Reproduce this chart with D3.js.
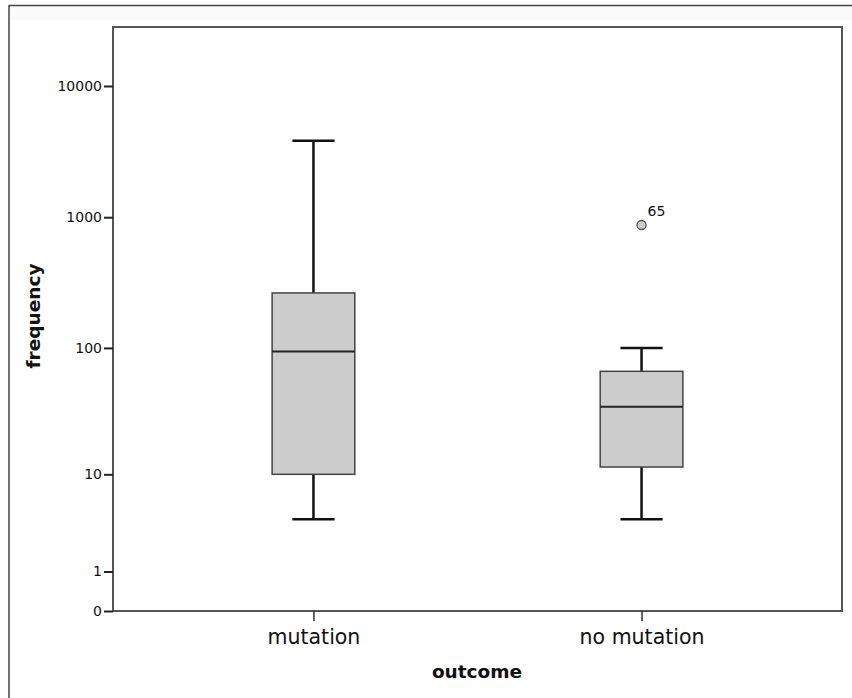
<!DOCTYPE html>
<html><head><meta charset="utf-8">
<script src="https://cdn.jsdelivr.net/npm/d3@7"></script>
<style>body{margin:0;background:#fff}svg{display:block}text{font-family:"DejaVu Sans",sans-serif}</style>
</head><body>
<script>
const categories = ["mutation", "no mutation"];
const whiskerLow = [4, 4];
const q1 = [10, 11.5];
const median = [94, 35];
const q3 = [264, 66];
const whiskerHigh = [3830, 100];
const outlierCats = ["no mutation"];
const outlierValues = [872];
const outlierLabels = ["65"];
const yTicks = [0, 1, 10, 100, 1000, 10000];

const W = 852, H = 698;
const L = 113, R = 842, T = 27, B = 611;
const svg = d3.select("body").append("svg").attr("width", W).attr("height", H);

// outer border (left and top)
svg.append("rect").attr("x", 9).attr("y", 6).attr("width", W - 9).attr("height", 14).attr("fill", "#fbfafa");
svg.append("line").attr("x1", 9).attr("x2", 9).attr("y1", 5.5).attr("y2", H).attr("stroke", "#444").attr("stroke-width", 1.5);
svg.append("line").attr("x1", 8.5).attr("x2", W).attr("y1", 5.5).attr("y2", 5.5).attr("stroke", "#444").attr("stroke-width", 1.5);

const y = d3.scaleSymlog().constant(1).domain([0, 28150]).range([B, T]);
const x = d3.scalePoint().domain(categories).range([L, R]).padding(0.611);
const step = x.step();
const bw = step * 0.252;
const cw = bw * 0.51;

// frame
svg.append("rect").attr("x", L).attr("y", T).attr("width", R - L).attr("height", B - T)
  .attr("fill", "none").attr("stroke", "#555").attr("stroke-width", 2);

// y axis
const yAxis = d3.axisLeft(y).tickValues(yTicks).tickFormat(d3.format("d")).tickSize(9).tickPadding(2);
const gy = svg.append("g").attr("transform", `translate(${L},0)`).call(yAxis);
gy.select(".domain").remove();
gy.selectAll(".tick line").attr("stroke", "#222").attr("stroke-width", 2);
gy.selectAll(".tick text").attr("font-size", 14).attr("fill", "#111").attr("font-family", "DejaVu Sans");

// x axis
const xAxis = d3.axisBottom(x).tickSize(10).tickPadding(8);
const gx = svg.append("g").attr("transform", `translate(0,${B})`).call(xAxis);
gx.select(".domain").remove();
gx.selectAll(".tick line").attr("stroke", "#333").attr("stroke-width", 1.5);
gx.selectAll(".tick text").attr("font-size", 20.5).attr("fill", "#111").attr("font-family", "DejaVu Sans");

// boxes
categories.forEach((c, i) => {
  const cx = x(c);
  const g = svg.append("g");
  g.append("line").attr("x1", cx).attr("x2", cx).attr("y1", y(whiskerHigh[i])).attr("y2", y(q3[i])).attr("stroke", "#111").attr("stroke-width", 2.5);
  g.append("line").attr("x1", cx).attr("x2", cx).attr("y1", y(q1[i])).attr("y2", y(whiskerLow[i])).attr("stroke", "#111").attr("stroke-width", 2.5);
  g.append("line").attr("x1", cx - cw / 2).attr("x2", cx + cw / 2).attr("y1", y(whiskerHigh[i])).attr("y2", y(whiskerHigh[i])).attr("stroke", "#111").attr("stroke-width", 2.5);
  g.append("line").attr("x1", cx - cw / 2).attr("x2", cx + cw / 2).attr("y1", y(whiskerLow[i])).attr("y2", y(whiskerLow[i])).attr("stroke", "#111").attr("stroke-width", 2.5);
  g.append("rect").attr("x", cx - bw / 2).attr("y", y(q3[i])).attr("width", bw).attr("height", y(q1[i]) - y(q3[i]))
    .attr("fill", "#cccccc").attr("stroke", "#444").attr("stroke-width", 1.5);
  g.append("line").attr("x1", cx - bw / 2).attr("x2", cx + bw / 2).attr("y1", y(median[i])).attr("y2", y(median[i])).attr("stroke", "#222").attr("stroke-width", 2);
});

// outliers
outlierValues.forEach((v, i) => {
  const cx = x(outlierCats[i]);
  svg.append("circle").attr("cx", cx).attr("cy", y(v)).attr("r", 4.5).attr("fill", "#cccccc").attr("stroke", "#555").attr("stroke-width", 1.3);
  svg.append("text").attr("x", cx + 6).attr("y", y(v) - 9).attr("font-size", 14).attr("fill", "#111").text(outlierLabels[i]);
});

// axis titles
svg.append("text").attr("transform", `translate(40,316) rotate(-90)`).attr("text-anchor", "middle")
  .attr("font-size", 18.5).attr("font-weight", "bold").attr("fill", "#111").text("frequency");
svg.append("text").attr("x", 477).attr("y", 678).attr("text-anchor", "middle")
  .attr("font-size", 18.5).attr("font-weight", "bold").attr("fill", "#111").text("outcome");
</script>
</body></html>
